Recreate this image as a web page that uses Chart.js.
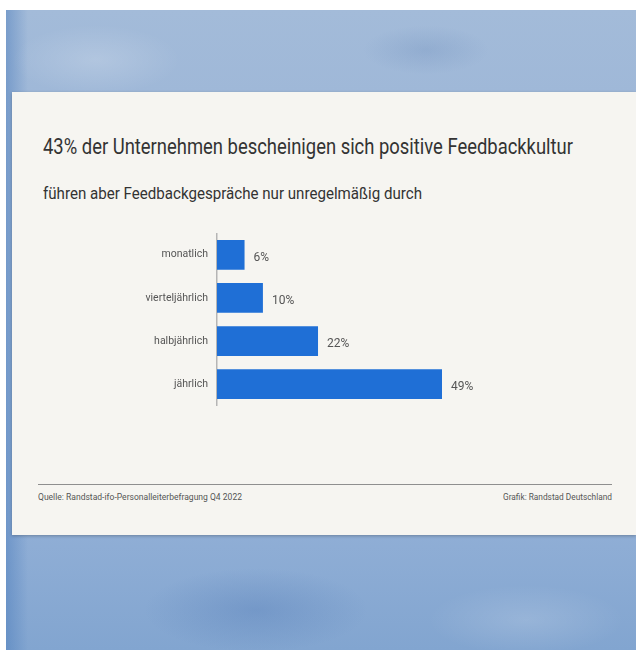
<!DOCTYPE html>
<html lang="de">
<head>
  <meta charset="UTF-8" />
  <title>Feedbackkultur</title>
  <style>
    body {
      margin: 0;
      width: 636px;
      height: 650px;
      background: #ffffff;
      position: relative;
      overflow: hidden;
      font-family: 'Roboto', sans-serif;
    }
    #backdrop {
      position: absolute;
      left: 6px; top: 10px; right: 0; bottom: 0;
      background:
        radial-gradient(ellipse 120px 50px at 90px 50px, rgba(255,255,255,0.18), rgba(255,255,255,0) 70%),
        radial-gradient(ellipse 90px 35px at 420px 40px, rgba(60,100,160,0.15), rgba(60,100,160,0) 70%),
        radial-gradient(ellipse 160px 60px at 250px 600px, rgba(50,95,165,0.22), rgba(50,95,165,0) 70%),
        radial-gradient(ellipse 140px 50px at 520px 610px, rgba(255,255,255,0.15), rgba(255,255,255,0) 70%),
        linear-gradient(90deg, rgba(70,120,185,0.45) 0px, rgba(70,120,185,0) 22px),
        linear-gradient(180deg, #a3bbd9 0%, #9fb8d8 13%, #91afd6 80%, #82a5d0 100%);
    }
    #card {
      position: absolute;
      left: 12px; top: 92px; right: 0;
      height: 443px;
      background: #f6f5f1;
      box-shadow: 0 1px 3px rgba(0,0,0,0.25);
    }
    .fit {
      position: absolute;
      white-space: nowrap;
      transform-origin: 0 0;
    }
    #title {
      left: 43px; top: 134px;
      font-size: 22px;
      color: #333;
    }
    #subtitle {
      left: 43px; top: 183px;
      font-size: 17px;
      color: #333;
    }
    #chartBox {
      position: absolute;
      left: 20px; top: 218px;
      width: 600px; height: 203px;
    }
    #rule {
      position: absolute;
      left: 38px; top: 484px;
      width: 574px; height: 0;
      border-top: 1.5px solid #8f8f8f;
    }
    .foot {
      top: 492px;
      font-size: 9px;
      color: #555;
    }
  </style>
  <script src="https://cdn.jsdelivr.net/npm/chart.js"></script>
</head>
<body>
  <div id="backdrop"></div>
  <div id="card"></div>
  <div id="title" class="fit" data-w="530">43% der Unternehmen bescheinigen sich positive Feedbackkultur</div>
  <div id="subtitle" class="fit" data-w="379">führen aber Feedbackgespräche nur unregelmäßig durch</div>
  <div id="chartBox"><canvas id="chart" width="600" height="203"></canvas></div>
  <div id="rule"></div>
  <div class="fit foot" style="left:38px;" data-w="204">Quelle: Randstad-ifo-Personalleiterbefragung Q4 2022</div>
  <div class="fit foot" style="left:503px;" data-w="109">Grafik: Randstad Deutschland</div>
  <script>
    // Data
    const categories = ["monatlich", "vierteljährlich", "halbjährlich", "jährlich"];
    const shares = [6, 10, 22, 49];

    const fontName = "'Roboto', sans-serif";

    // squeeze the condensed-looking texts to the widths in the picture
    document.querySelectorAll('.fit').forEach(el => {
      const w = el.getBoundingClientRect().width;
      const target = +el.dataset.w;
      el.style.transform = 'scaleX(' + (target / w) + ')';
    });

    // Percent labels right of each bar
    const valueLabels = {
      id: 'valueLabels',
      afterDatasetsDraw(chart) {
        const ctx = chart.ctx;
        const meta = chart.getDatasetMeta(0);
        ctx.save();
        ctx.font = "12px " + fontName;
        ctx.fillStyle = "#555";
        ctx.textAlign = "left";
        ctx.textBaseline = "middle";
        meta.data.forEach((bar, i) => {
          ctx.fillText(shares[i] + "%", bar.x + 9, bar.y + 3);
        });
        ctx.restore();
      }
    };

    new Chart(document.getElementById("chart"), {
      type: 'bar',
      data: {
        labels: categories,
        datasets: [{
          data: shares,
          backgroundColor: '#1f6fd6',
          categoryPercentage: 1,
          barPercentage: 0.69
        }]
      },
      options: {
        indexAxis: 'y',
        responsive: false,
        animation: false,
        layout: { padding: { top: 2, bottom: 4, left: 0, right: 178 } },
        plugins: {
          legend: { display: false },
          tooltip: { enabled: false }
        },
        scales: {
          x: {
            display: false,
            min: 0,
            max: 49
          },
          y: {
            afterFit(scale) { scale.width = 197; },
            grid: { display: false, drawTicks: false },
            border: { display: true, color: '#b5b5b5', width: 1.5 },
            ticks: {
              padding: 9,
              color: '#555',
              font: { family: fontName, size: 10.5 }
            }
          }
        }
      },
      plugins: [valueLabels]
    });
  </script>
</body>
</html>
